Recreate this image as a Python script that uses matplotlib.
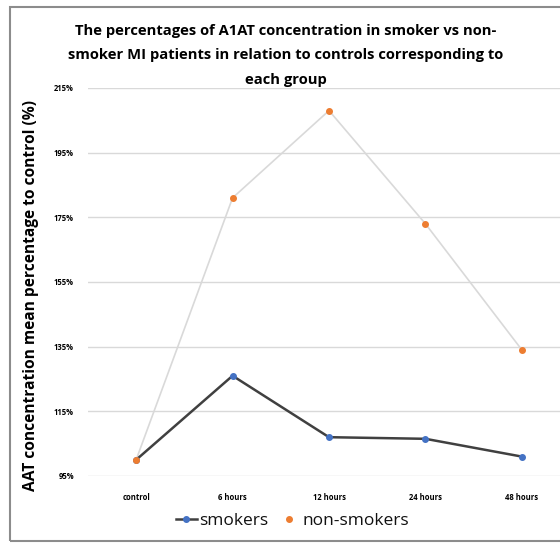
import matplotlib.pyplot as plt
from matplotlib.patches import Rectangle
from matplotlib.ticker import FuncFormatter

plt.rcParams['font.family'] = ['Open Sans', 'DejaVu Sans']

# mean AAT concentration as percentage of the matching control group
times = ["control", "6 hours", "12 hours", "24 hours", "48 hours"]
smokers = [100, 126, 107, 106.5, 101]
non_smokers = [100, 181, 208, 173, 134]
y_ticks = [95, 115, 135, 155, 175, 195, 215]

fig = plt.figure(figsize=(5.6, 5.43), dpi=100)
ax = fig.add_axes([0.157, 0.1234, 0.861, 0.7146])

x = list(range(len(times)))
ax.plot(x, non_smokers, color='#d9d9d9', lw=1.2, zorder=3)
ax.plot(x, smokers, color='#404040', lw=1.8, marker='o', ms=4,
        mfc='#4472c4', mec='#4472c4', label='smokers', zorder=4)
# markers of the light series sit on top
ax.plot(x, non_smokers, ls='None', marker='o', ms=4,
        mfc='#ed7d31', mec='#ed7d31', label='non-smokers', zorder=5)

ax.set_xlim(-0.5, 4.5)
ax.set_ylim(95, 215)
ax.set_yticks(y_ticks)
ax.yaxis.set_major_formatter(FuncFormatter(lambda v, p: '%d%%' % v))
ax.set_xticks(x)
ax.set_xticklabels(times)
ax.tick_params(length=0, labelsize=5.5, pad=12)
ax.tick_params(axis='y', pad=10)
for lab in ax.get_xticklabels() + ax.get_yticklabels():
    lab.set_fontweight('bold')
ax.grid(axis='y', color='#d9d9d9', lw=1)
ax.set_axisbelow(True)
for s in ax.spines.values():
    s.set_visible(False)

ax.set_ylabel('AAT concentration mean percentage to control (%)',
              fontsize=11.2, fontweight='bold')
ax.yaxis.set_label_coords(-0.102, 0.465)

fig.text(0.51, 0.898,
         'The percentages of A1AT concentration in smoker vs non-\n'
         'smoker MI patients in relation to controls corresponding to\n'
         'each group',
         ha='center', va='center', fontsize=10.6, fontweight='bold',
         linespacing=1.95)

leg = fig.legend(loc='center', bbox_to_anchor=(0.522, 0.041), ncol=2,
                 frameon=False, fontsize=12.5, handlelength=1.2,
                 handletextpad=0.15, columnspacing=0.6)
for t in leg.get_texts():
    t.set_color('#111111')

fig.patches.append(Rectangle((0.018, 0.004), 1.1, 0.983,
                             transform=fig.transFigure, fill=False,
                             ec='#8c8c8c', lw=1.5))

fig.savefig('out.png', dpi=100)
